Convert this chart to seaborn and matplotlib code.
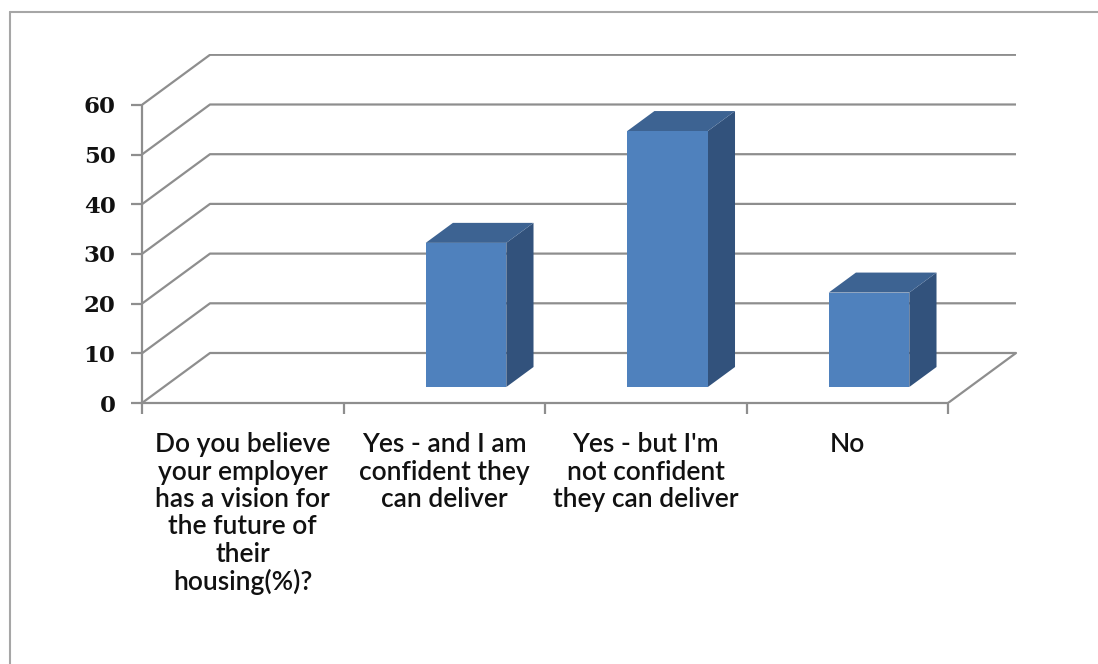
import numpy as np
import pandas as pd
import matplotlib
matplotlib.use("Agg")
import matplotlib.pyplot as plt
import seaborn as sns
from matplotlib.patches import Polygon
from matplotlib.lines import Line2D

categories = [
    "Do you believe\nyour employer\nhas a vision for\nthe future of\ntheir\nhousing(%)?",
    "Yes - and I am\nconfident they\ncan deliver",
    "Yes - but I'm\nnot confident\nthey can deliver",
    "No",
]
values = [0, 29, 51.5, 19]
yticks = [0, 10, 20, 30, 40, 50, 60]

FRONT = "#4F81BD"
TOP = "#3D6392"
SIDE = "#32527C"
GRID = "#8E8E8E"

sns.set_theme(style="white")
fig = plt.figure(figsize=(10.98, 6.64), dpi=100)
ax = fig.add_axes([142 / 1098, 261 / 664, 878 / 1098, 349 / 664])

# oblique depth in data units
DX = 68 / 201.5
DY = 50 / 4.97
F0, F1 = 0.32, 0.72

df = pd.DataFrame({"cat": categories, "val": values})
sns.barplot(data=df, x="cat", y="val", order=categories, color=FRONT,
            width=0.40, saturation=1, ax=ax, linewidth=0, zorder=5)

ax.set_xlim(-0.5, -0.5 + 878 / 201.5)
ax.set_ylim(0, 349 / 4.97)

# back wall gridlines + left wall diagonals
for v in yticks:
    ax.plot([-0.5, -0.5 + DX, 3.5 + DX], [v, v + DY, v + DY],
            color=GRID, lw=1.6, zorder=1, solid_capstyle="butt")
# floor right edge
ax.plot([3.5, 3.5 + DX], [0, DY], color=GRID, lw=1.6, zorder=1)

# 3D faces of bars
ddx = (F1 - F0) * DX
ddy = (F1 - F0) * DY
for p in list(ax.patches):
    h = p.get_height()
    if not np.isfinite(h) or h <= 0:
        p.set_visible(False)
        continue
    xl = p.get_x() + F0 * DX
    w = p.get_width()
    yb = F0 * DY
    p.set_x(xl)
    p.set_y(yb)
    xr = xl + w
    yt = yb + h
    side = Polygon([(xr, yb), (xr + ddx, yb + ddy), (xr + ddx, yt + ddy), (xr, yt)],
                   closed=True, facecolor=SIDE, edgecolor="none", zorder=4)
    top = Polygon([(xl, yt), (xr, yt), (xr + ddx, yt + ddy), (xl + ddx, yt + ddy)],
                  closed=True, facecolor=TOP, edgecolor="none", zorder=4)
    ax.add_patch(side)
    ax.add_patch(top)

# spines
for s in ["top", "right"]:
    ax.spines[s].set_visible(False)
ax.spines["left"].set_bounds(0, 60)
ax.spines["bottom"].set_bounds(-0.5, 3.5)
for s in ["left", "bottom"]:
    ax.spines[s].set_color(GRID)
    ax.spines[s].set_linewidth(1.6)
    ax.spines[s].set_zorder(2)

ax.set_xlabel("")
ax.set_ylabel("")
ax.set_yticks(yticks)
ax.set_yticklabels([str(t) for t in yticks], fontfamily="DejaVu Serif",
                   fontweight="bold", fontsize=16.5, color="#111111")
ax.tick_params(axis="y", direction="out", length=8, width=1.6, color=GRID, pad=11, left=True)

ax.set_xticks(range(len(categories)))
ax.set_xticklabels(categories, fontfamily="Lato", fontweight="semibold", fontsize=19,
                   color="#111111", linespacing=1.12, va="top", ha="center")
ax.tick_params(axis="x", which="major", length=0, pad=21)
ax.set_xticks([-0.5, 0.5, 1.5, 2.5, 3.5], minor=True)
ax.tick_params(axis="x", which="minor", direction="out", length=8, width=1.6,
               color=GRID, bottom=True)

# outer frame (top and left)
fig.add_artist(Line2D([10 / 1098, 1.0], [1 - 12 / 664, 1 - 12 / 664],
                      transform=fig.transFigure, color="#A6A6A6", lw=1.5))
fig.add_artist(Line2D([10 / 1098, 10 / 1098], [0, 1 - 12 / 664],
                      transform=fig.transFigure, color="#A6A6A6", lw=1.5))

fig.savefig("out.png", dpi=100, facecolor="white")
